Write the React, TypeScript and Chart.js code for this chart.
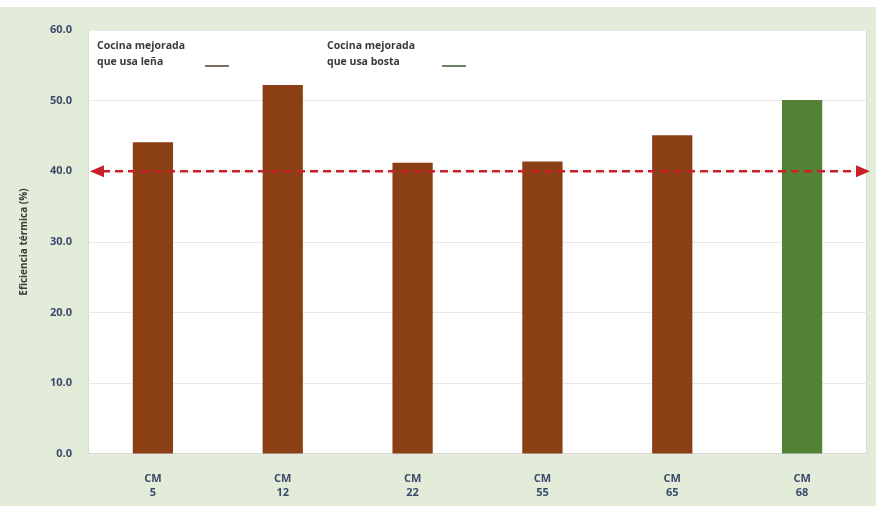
import React, { useEffect, useRef } from "react";
import { Chart, registerables } from "chart.js";
Chart.register(...registerables);

const categories: string[][] = [["CM", "5"], ["CM", "12"], ["CM", "22"], ["CM", "55"], ["CM", "65"], ["CM", "68"]];
const firewoodValues: (number | null)[] = [44.1, 52.2, 41.2, 41.4, 45.1, null];
const dungValues: (number | null)[] = [null, null, null, null, null, 50.1];
const referenceValue = 40;
const yAxisTitle = "Eficiencia térmica (%)";
const legendFirewood = ["Cocina mejorada", "que usa leña"];
const legendDung = ["Cocina mejorada", "que usa bosta"];

const BROWN = "#8a3f14";
const GREEN = "#548235";
const BG = "#e3ebd9";
const FONT = "'Open Sans', 'DejaVu Sans', sans-serif";

const decorPlugin = {
  id: "decor",
  beforeDraw(chart: any) {
    const { ctx, width, height, chartArea } = chart;
    ctx.save();
    ctx.fillStyle = "#ffffff";
    ctx.fillRect(0, 0, width, height);
    ctx.fillStyle = BG;
    ctx.fillRect(0, 7, width, height - 7);
    ctx.fillStyle = "#ffffff";
    ctx.fillRect(chartArea.left, chartArea.top, chartArea.right - chartArea.left, chartArea.bottom - chartArea.top);
    ctx.strokeStyle = "#d8dccf";
    ctx.lineWidth = 1;
    ctx.strokeRect(chartArea.left + 0.5, chartArea.top + 0.5, chartArea.right - chartArea.left - 1, chartArea.bottom - chartArea.top - 1);
    ctx.restore();
  },
  afterDatasetsDraw(chart: any) {
    const { ctx, chartArea } = chart;
    const y = chart.scales.y.getPixelForValue(referenceValue);
    const red = "#c9202a";
    const xl = chartArea.left + 2;
    const xr = chartArea.right + 3;
    ctx.save();
    ctx.strokeStyle = red;
    ctx.lineWidth = 2.5;
    ctx.setLineDash([8, 5]);
    ctx.beginPath();
    ctx.moveTo(xl + 12, y);
    ctx.lineTo(xr - 12, y);
    ctx.stroke();
    ctx.setLineDash([]);
    ctx.fillStyle = red;
    ctx.beginPath();
    ctx.moveTo(xl, y);
    ctx.lineTo(xl + 14, y - 6);
    ctx.lineTo(xl + 14, y + 6);
    ctx.closePath();
    ctx.fill();
    ctx.beginPath();
    ctx.moveTo(xr, y);
    ctx.lineTo(xr - 14, y - 6);
    ctx.lineTo(xr - 14, y + 6);
    ctx.closePath();
    ctx.fill();

    // legend
    ctx.font = `bold 10.5px ${FONT}`;
    ctx.fillStyle = "#3a3a3a";
    ctx.textBaseline = "middle";
    ctx.textAlign = "left";
    const items = [
      { x: 97, lines: legendFirewood, color: "#5b3a26", mx: 205 },
      { x: 327, lines: legendDung, color: "#3e5a2e", mx: 442 },
    ];
    for (const it of items) {
      ctx.fillText(it.lines[0], it.x, 46);
      ctx.fillText(it.lines[1], it.x, 62);
      ctx.strokeStyle = it.color;
      ctx.lineWidth = 1.5;
      ctx.beginPath();
      ctx.moveTo(it.mx, 66);
      ctx.lineTo(it.mx + 24, 66);
      ctx.stroke();
    }
    ctx.restore();
  },
};

export default function App() {
  const ref = useRef<HTMLCanvasElement | null>(null);
  useEffect(() => {
    document.body.style.margin = "0";
    const chart = new Chart(ref.current as HTMLCanvasElement, {
      type: "bar",
      data: {
        labels: categories,
        datasets: [
          { label: "leña", data: firewoodValues, backgroundColor: BROWN, barPercentage: 0.31, categoryPercentage: 1 },
          { label: "bosta", data: dungValues, backgroundColor: GREEN, barPercentage: 0.31, categoryPercentage: 1 },
        ],
      },
      options: {
        animation: false,
        responsive: false,
        layout: { padding: { top: 30, right: 9, left: 0, bottom: 0 } },
        plugins: { legend: { display: false }, tooltip: { enabled: false } },
        scales: {
          x: {
            stacked: true,
            grid: { display: false },
            border: { display: false },
            ticks: { color: "#3b4a6b", font: { family: FONT, size: 11, weight: "bold", lineHeight: 1.35 }, padding: 9 },
            afterFit: (s: any) => { s.height = 52; },
          },
          y: {
            stacked: true,
            min: 0,
            max: 60,
            ticks: {
              stepSize: 10,
              color: "#3b4a6b",
              font: { family: FONT, size: 11, weight: "bold" },
              padding: 16,
              callback: (v: any) => Number(v).toFixed(1),
            },
            grid: { color: "#e8e8e8", drawTicks: false },
            border: { display: false },
            title: { display: true, text: yAxisTitle, color: "#3a3a3a", font: { family: FONT, size: 10, weight: "bold" }, padding: { top: 18, bottom: 0 } },
            afterFit: (s: any) => { s.width = 88; },
          },
        },
      },
      plugins: [decorPlugin],
    } as any);
    return () => chart.destroy();
  }, []);
  return (
    <div style={{ width: 876, height: 506 }}>
      <canvas ref={ref} width={876} height={506} style={{ display: "block" }} />
    </div>
  );
}
